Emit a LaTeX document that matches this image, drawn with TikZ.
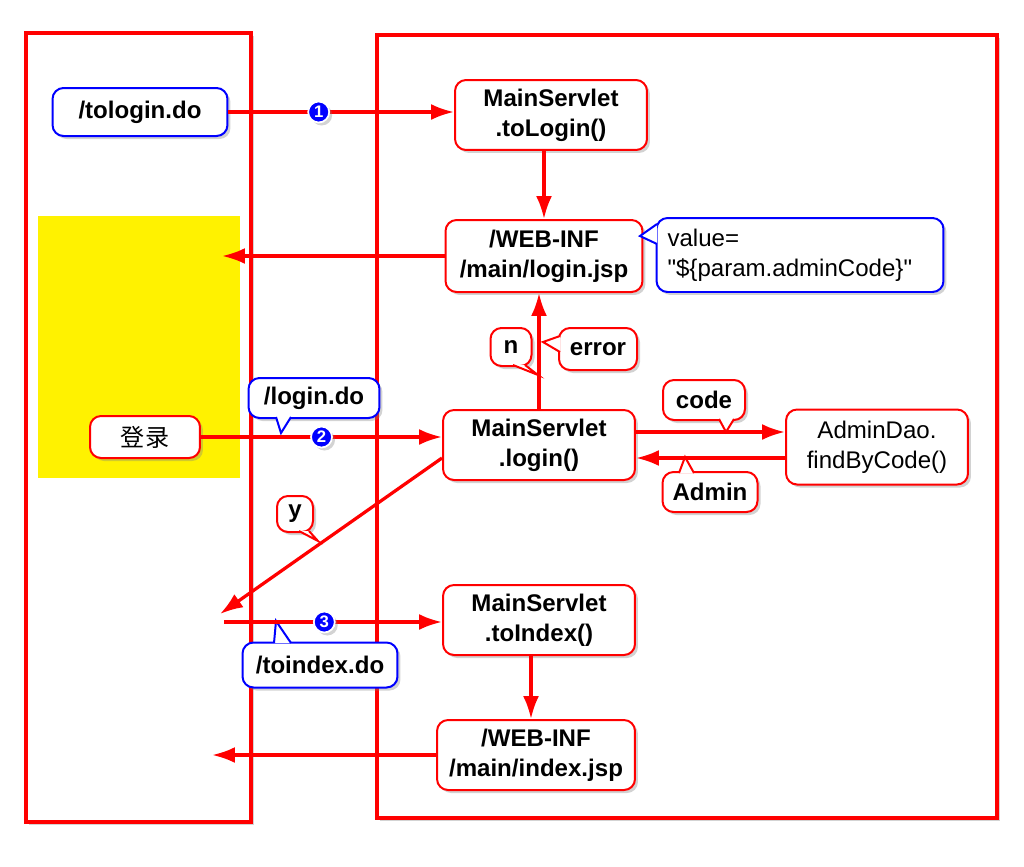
\documentclass[tikz,border=0pt]{standalone}
\usepackage{fontspec}
\setmainfont{Liberation Sans}
\newfontfamily\valfont{Liberation Sans}
\newfontfamily\cjk{Noto Sans CJK SC}
\usepackage{tikz}
\usetikzlibrary{shadows, arrows.meta}

\newcommand\plainfont{\fontsize{13.7}{17}\selectfont}
\newcommand\boxfont{\fontsize{13.7}{17}\selectfont\bfseries}
% callout tail: colour, base, tip, base
\newcommand\tail[4]{\fill[white] #2 -- #3 -- #4 -- cycle;
  \draw[#1, line width=0.04cm, line join=miter] #2 -- #3 -- #4;}

\tikzset{
  shade box/.style={drop shadow={shadow xshift=0.06cm, shadow yshift=-0.06cm, opacity=0.35}},
  frame/.style={draw=red, line width=0.09cm, fill=white, shade box},
  box/.style={draw=red, line width=0.04cm, rounded corners=0.22cm, fill=white, inner sep=0pt,
    align=center, font=\boxfont, shade box},
  bbox/.style={box, draw=blue},
  num/.style={circle, fill=blue, draw=white, line width=0.035cm, inner sep=0pt, minimum size=0.42cm,
    text=white, font=\fontsize{9.5}{9.5}\selectfont\bfseries, shade box},
  arr/.style={-{Latex[length=0.46cm, width=0.32cm]}, draw=red, line width=0.065cm},
}

\begin{document}
\begin{tikzpicture}[x=0.02cm, y=-0.02cm]
  \useasboundingbox (0,0) rectangle (1024,866);
  \draw[frame] (26,33) rectangle (251,822);
  \draw[frame] (377,35) rectangle (997,818);
  \fill[yellow] (38,216) rectangle (240,478);

  \node[bbox, minimum width=3.5cm, minimum height=0.96cm] (tologin) at (140,112) {/tologin.do};
  \node[box, minimum width=3.84cm, minimum height=1.4cm] (toLogin) at (551,115) {MainServlet\\.toLogin()};
  \node[box, minimum width=3.94cm, minimum height=1.44cm] (loginJsp) at (544,256) {/WEB-INF\\/main/login.jsp};
  \node[bbox, font=\plainfont\valfont, align=left, text width=5.3cm, inner xsep=0.22cm,
    minimum height=1.48cm] (value) at (800,255) {value=\\"\$\{param.adminCode\}"};
  \node[box, minimum width=0.82cm, minimum height=0.76cm] (n) at (511,347) {n};
  \node[box, minimum width=1.56cm, minimum height=0.84cm] (error) at (598,349) {error};
  \node[box, font=\plainfont\cjk, minimum width=2.2cm, minimum height=0.84cm] (denglu) at (145,437) {登录};
  \node[bbox, minimum width=2.62cm, minimum height=0.8cm] (loginDo) at (314,398) {/login.do};
  \node[box, minimum width=3.84cm, minimum height=1.4cm] (login) at (539,445) {MainServlet\\.login()};
  \node[box, minimum width=1.64cm, minimum height=0.8cm] (code) at (704,400) {code};
  \node[box, font=\plainfont, minimum width=3.64cm, minimum height=1.5cm] (dao) at (877,447) {AdminDao.\\findByCode()};
  \node[box, minimum width=1.9cm, minimum height=0.8cm] (admin) at (710,492) {Admin};
  \node[box, minimum width=0.72cm, minimum height=0.72cm] (y) at (295,514) {y};
  \node[bbox, minimum width=3.1cm, minimum height=0.9cm] (toindexDo) at (320,665) {/toindex.do};
  \node[box, minimum width=3.84cm, minimum height=1.4cm] (toIndex) at (539,620) {MainServlet\\.toIndex()};
  \node[box, minimum width=3.96cm, minimum height=1.4cm] (indexJsp) at (536,755) {/WEB-INF\\/main/index.jsp};

  \tail{blue}{(657,224)}{(640,236)}{(657,244)}
  \tail{red}{(513,365)}{(538,375)}{(525,365)}
  \tail{red}{(560,336)}{(543,342)}{(560,352)}
  \tail{blue}{(276,417)}{(281,433)}{(291,417)}
  \tail{red}{(719,419)}{(726,432)}{(734,419)}
  \tail{red}{(679,473)}{(685,457)}{(694,473)}
  \tail{red}{(299,531)}{(318,541)}{(309,531)}
  \tail{blue}{(274,643)}{(276,621)}{(291,643)}

  \coordinate (back1) at (222,255);
  \coordinate (back2) at (220,614);
  \coordinate (start3) at (224,622);
  \coordinate (back3) at (212,757);

  \draw[arr] (tologin.east) -- node[num, pos=0.4] {1} (tologin.east -| toLogin.west);
  \draw[arr] (loginJsp.north |- toLogin.south) -- (loginJsp.north);
  \draw[arr] (loginJsp.west) -- (loginJsp.west -| back1);
  \draw[arr] (denglu.east) -- node[num, pos=0.5] {2} (denglu.east -| login.west);
  \draw[arr] (login.north) -- (login.north |- loginJsp.south);
  \draw[arr] ([yshift=0.26cm]login.east) -- ([yshift=0.26cm]login.east -| dao.west);
  \draw[arr] ([yshift=-0.22cm]dao.west) -- ([yshift=-0.22cm]dao.west -| login.east);
  \draw[arr] ([yshift=-0.26cm]login.west) -- (back2);
  \draw[arr] (start3) -- node[num, pos=0.46] {3} (start3 -| toIndex.west);
  \draw[arr] ([xshift=-0.16cm]toIndex.south) -- ([xshift=-0.16cm]toIndex.south |- indexJsp.north);
  \draw[arr] (indexJsp.west) -- (indexJsp.west -| back3);
\end{tikzpicture}
\end{document}
